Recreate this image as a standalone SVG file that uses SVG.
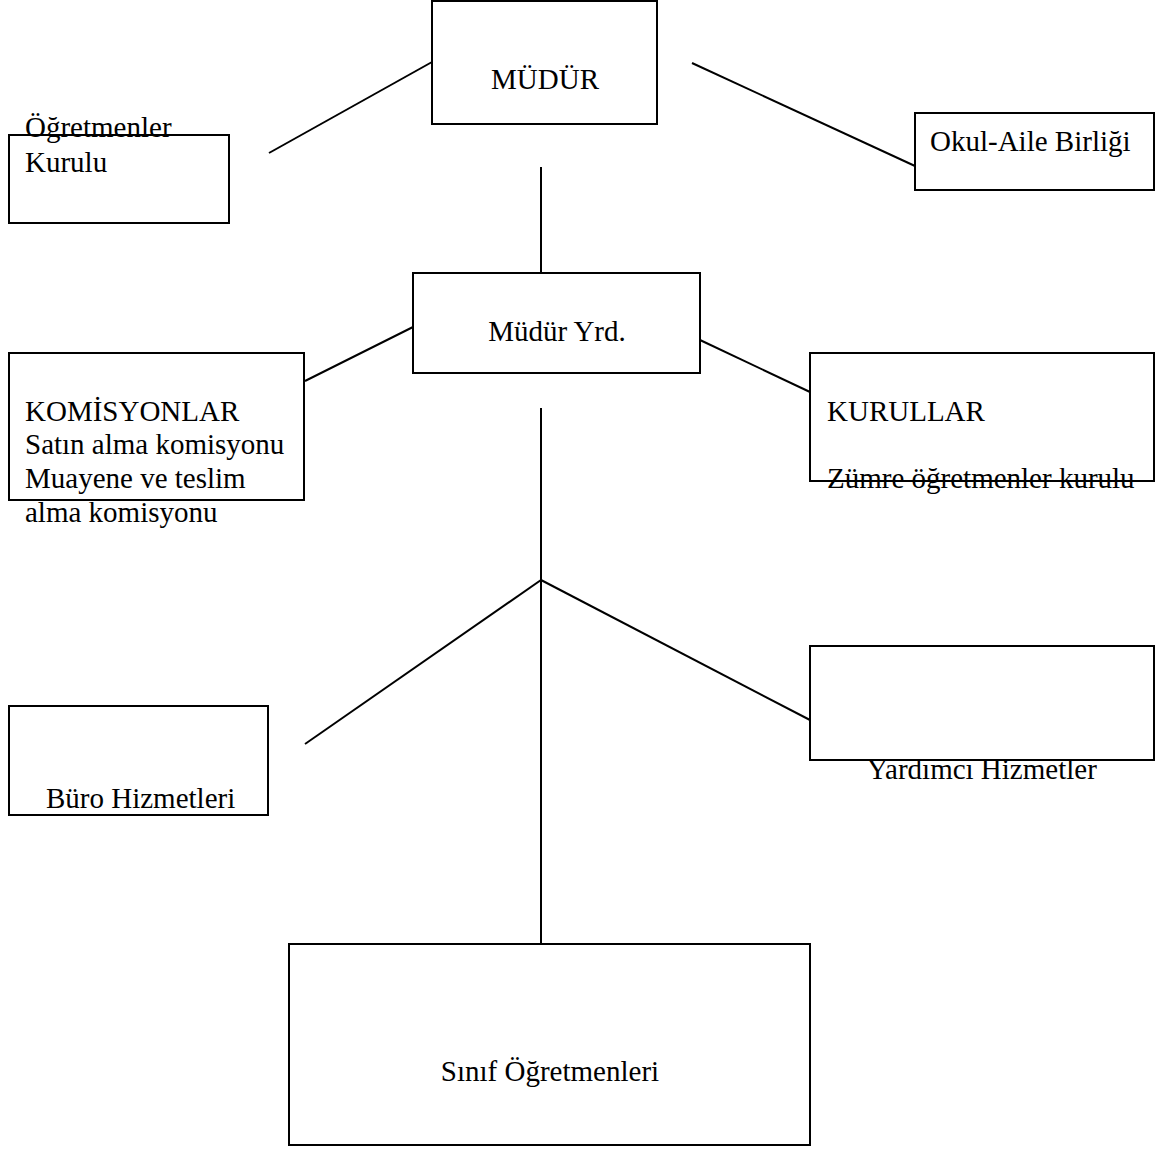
<svg xmlns="http://www.w3.org/2000/svg" width="1155" height="1153" viewBox="0 0 1155 1153">
<style>
.box{fill:#fff;stroke:#000;stroke-width:2}
.ln{stroke:#000;stroke-width:2;fill:none}
text{font-family:'Liberation Serif','Times New Roman',Tinos,'DejaVu Serif',serif;font-size:29px;fill:#000}
.c{text-anchor:middle}
</style>
<rect width="1155" height="1153" fill="#fff"/>
<g id="connectors">
<line class="ln" x1="269" y1="153" x2="432" y2="62"/>
<line class="ln" x1="692" y1="63" x2="915" y2="166"/>
<line class="ln" x1="541" y1="167" x2="541" y2="273"/>
<line class="ln" x1="305" y1="381" x2="413" y2="327"/>
<line class="ln" x1="700" y1="340" x2="810" y2="392"/>
<line class="ln" x1="541" y1="408" x2="541" y2="944"/>
<line class="ln" x1="541" y1="580" x2="305" y2="744"/>
<line class="ln" x1="541" y1="580" x2="810" y2="720"/>
</g>
<g id="mudur">
<rect class="box" x="432" y="1" width="225" height="123"/>
<text class="c" x="545" y="89">MÜDÜR</text>
</g>
<g id="ogretmenler-kurulu">
<rect class="box" x="9" y="135" width="220" height="88"/>
<text x="25" y="137">Öğretmenler</text>
<text x="25" y="172">Kurulu</text>
</g>
<g id="okul-aile">
<rect class="box" x="915" y="113" width="239" height="77"/>
<text x="930" y="151">Okul-Aile Birliği</text>
</g>
<g id="mudur-yrd">
<rect class="box" x="413" y="273" width="287" height="100"/>
<text class="c" x="557" y="341">Müdür Yrd.</text>
</g>
<g id="komisyonlar">
<rect class="box" x="9" y="353" width="295" height="147"/>
<text x="25" y="421">KOMİSYONLAR</text>
<text x="25" y="454">Satın alma komisyonu</text>
<text x="25" y="488">Muayene ve teslim</text>
<text x="25" y="522">alma komisyonu</text>
</g>
<g id="kurullar">
<text x="827" y="421">KURULLAR</text>
<text x="827" y="488">Zümre öğretmenler kurulu</text>
<rect class="box" x="810" y="353" width="344" height="128" style="fill:none"/>
</g>
<g id="buro">
<rect class="box" x="9" y="706" width="259" height="109"/>
<text x="46" y="808">Büro Hizmetleri</text>
</g>
<g id="yardimci">
<rect class="box" x="810" y="646" width="344" height="114"/>
<text x="867" y="779">Yardımcı Hizmetler</text>
</g>
<g id="sinif">
<rect class="box" x="289" y="944" width="521" height="201"/>
<text class="c" x="550" y="1081">Sınıf Öğretmenleri</text>
</g>
</svg>
